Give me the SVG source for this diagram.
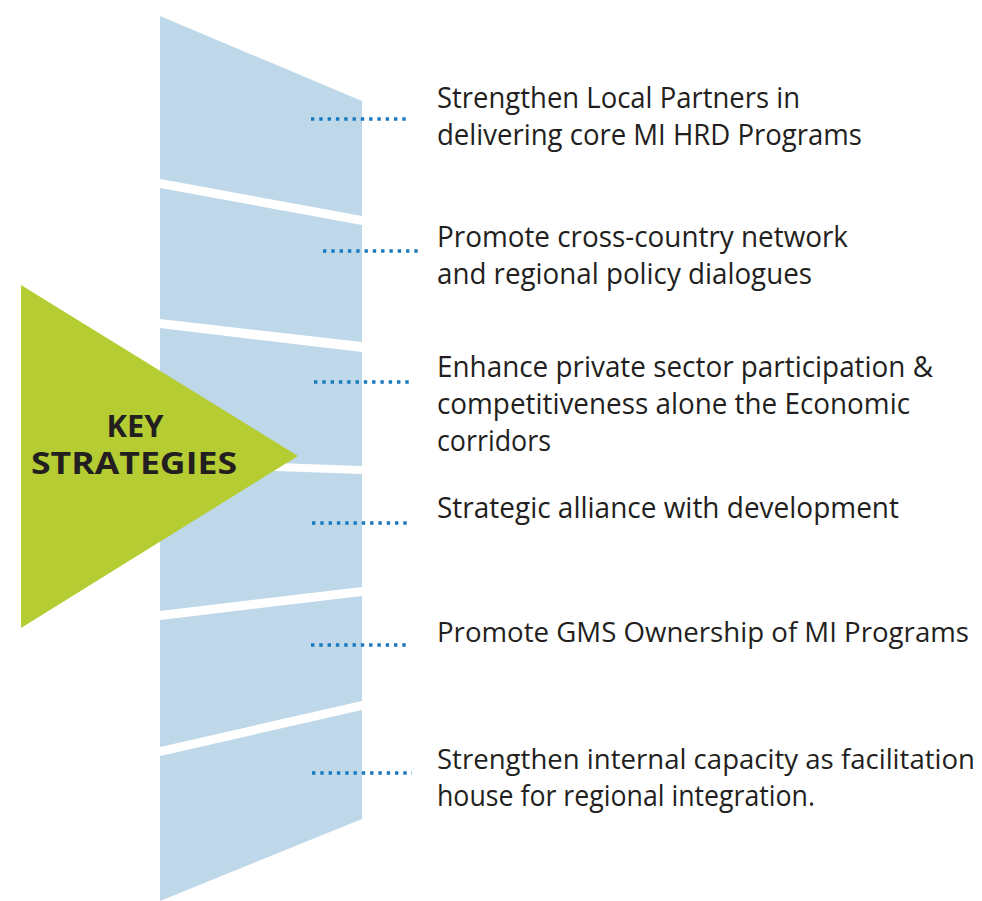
<svg xmlns="http://www.w3.org/2000/svg" width="982" height="901" viewBox="0 0 982 901">
  <style>
    .seg { fill: #bed8ea; }
    .lbl { font-family: "Open Sans", "Noto Sans", sans-serif; font-size: 28.5px; fill: #231f20; }
    .lbl.long { font-size: 27px; }
    .key { font-family: "Open Sans", "Noto Sans", sans-serif; font-size: 30px; font-weight: bold; fill: #231f20; text-anchor: middle; }
    .dots { stroke: #1a78bd; stroke-width: 3.4; stroke-dasharray: 3.4 4.9; fill: none; }
  </style>
  <rect width="982" height="901" fill="#ffffff"/>

  <!-- slanted column split into six panels -->
  <g id="band">
    <polygon class="seg" points="160,16 362,101 362,216 160,179"/>
    <polygon class="seg" points="160,188 362,225 362,342 160,319"/>
    <polygon class="seg" points="160,328 362,352 362,466 160,459"/>
    <polygon class="seg" points="160,467 362,474 362,587 160,611"/>
    <polygon class="seg" points="160,620 362,596 362,701 160,747"/>
    <polygon class="seg" points="160,756 362,710 362,819 160,901"/>
  </g>

  <!-- central pointer -->
  <g id="key-strategies">
    <polygon points="21,285 298,456 21,628" fill="#b5cc33"/>
    <text class="key" x="135" y="437" textLength="57" lengthAdjust="spacingAndGlyphs">KEY</text>
    <text class="key" x="134" y="474" textLength="206" lengthAdjust="spacingAndGlyphs">STRATEGIES</text>
  </g>

  <!-- dotted leaders from panels to labels -->
  <g id="connectors">
    <line class="dots" x1="311" y1="119" x2="410" y2="119"/>
    <line class="dots" x1="323" y1="251" x2="420" y2="251"/>
    <line class="dots" x1="314" y1="382" x2="413" y2="382"/>
    <line class="dots" x1="312" y1="523" x2="410" y2="523"/>
    <line class="dots" x1="311" y1="645" x2="410" y2="645"/>
    <line class="dots" x1="312" y1="773" x2="412" y2="773"/>
  </g>

  <g id="strategy-1">
    <text class="lbl" x="437" y="108" textLength="363" lengthAdjust="spacingAndGlyphs">Strengthen Local Partners in</text>
    <text class="lbl" x="437" y="145" textLength="425" lengthAdjust="spacingAndGlyphs">delivering core MI HRD Programs</text>
  </g>
  <g id="strategy-2">
    <text class="lbl" x="437" y="247" textLength="411" lengthAdjust="spacingAndGlyphs">Promote cross-country network</text>
    <text class="lbl" x="437" y="284" textLength="375" lengthAdjust="spacingAndGlyphs">and regional policy dialogues</text>
  </g>
  <g id="strategy-3">
    <text class="lbl" x="437" y="377" textLength="496" lengthAdjust="spacingAndGlyphs">Enhance private sector participation &amp;</text>
    <text class="lbl" x="437" y="414" textLength="473" lengthAdjust="spacingAndGlyphs">competitiveness alone the Economic</text>
    <text class="lbl" x="437" y="451" textLength="114" lengthAdjust="spacingAndGlyphs">corridors</text>
  </g>
  <g id="strategy-4">
    <text class="lbl" x="437" y="518" textLength="462" lengthAdjust="spacingAndGlyphs">Strategic alliance with development</text>
  </g>
  <g id="strategy-5">
    <text class="lbl long" x="437" y="642" textLength="532" lengthAdjust="spacingAndGlyphs">Promote GMS Ownership of MI Programs</text>
  </g>
  <g id="strategy-6">
    <text class="lbl long" x="437" y="769" textLength="538" lengthAdjust="spacingAndGlyphs">Strengthen internal capacity as facilitation</text>
    <text class="lbl" x="437" y="806" textLength="378" lengthAdjust="spacingAndGlyphs">house for regional integration.</text>
  </g>
</svg>
